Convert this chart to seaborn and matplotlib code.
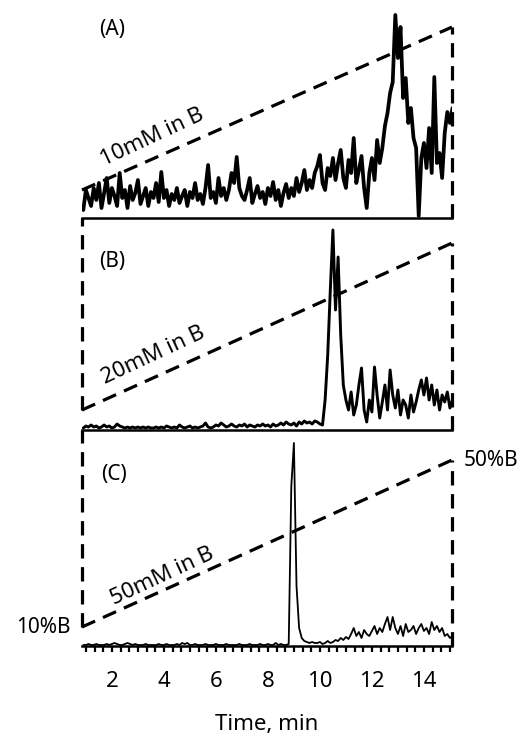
import numpy as np
import pandas as pd
import matplotlib
matplotlib.use("Agg")
import matplotlib.pyplot as plt
from matplotlib.ticker import MultipleLocator, FixedLocator
import seaborn as sns

# ---------------- data ----------------
t_start = 0.9
t_step = 0.1
# detector response (arbitrary units) sampled every 0.1 min from 0.9 to 15.1 min
signal_A = [8, 28, 20, 12, 30, 18, 35, 10, 25, 40,
            15, 30, 22, 12, 45, 20, 28, 10, 32, 18,
            25, 38, 14, 22, 30, 12, 26, 20, 35, 16,
            46, 20, 28, 12, 24, 18, 30, 15, 22, 28,
            12, 26, 20, 35, 18, 24, 14, 30, 53, 20,
            26, 15, 40, 22, 30, 18, 28, 45, 35, 61,
            30, 22, 18, 28, 40, 15, 24, 32, 20, 26,
            14, 30, 22, 36, 18, 28, 12, 25, 34, 20,
            30, 22, 40, 26, 35, 48, 28, 38, 30, 45,
            52, 63, 35, 28, 50, 42, 60, 38, 55, 68,
            40, 30, 58, 45, 80, 35, 48, 62, 30, 10,
            45, 60, 38, 78, 55, 70, 92, 105, 125, 136,
            203, 160, 191, 120, 140, 95, 110, 80, 70, 2,
            60, 75, 50, 90, 45, 141, 55, 65, 40, 85,
            106, 95, 110]
signal_B = [2, 4, 3, 5, 3, 4, 2, 3, 5, 3,
            4, 2, 3, 6, 4, 3, 2, 3, 2, 3,
            2, 3, 2, 3, 2, 3, 2, 2, 3, 2,
            3, 2, 4, 3, 2, 3, 2, 5, 3, 2,
            3, 4, 2, 3, 2, 3, 4, 7, 3, 2,
            3, 5, 4, 7, 5, 3, 4, 6, 4, 3,
            5, 4, 6, 3, 5, 4, 3, 5, 4, 6,
            4, 5, 3, 6, 4, 5, 7, 5, 8, 6,
            5, 7, 4, 8, 6, 9, 7, 8, 6, 9,
            8, 6, 5, 30, 75, 140, 200, 120, 173, 95,
            45, 30, 20, 38, 15, 25, 45, 62, 20, 8,
            30, 18, 63, 35, 12, 28, 45, 20, 60, 35,
            22, 40, 15, 30, 25, 12, 35, 18, 28, 40,
            50, 35, 52, 30, 45, 25, 40, 20, 35, 28,
            38, 22, 30]
signal_C = [1, 1, 2, 1, 1, 2, 1, 1, 1, 2,
            1, 2, 3, 2, 1, 1, 2, 3, 2, 1,
            2, 1, 1, 1, 2, 1, 1, 1, 1, 2,
            1, 1, 2, 1, 1, 1, 2, 1, 3, 2,
            3, 1, 1, 2, 1, 1, 1, 2, 1, 1,
            1, 2, 1, 1, 1, 2, 1, 1, 1, 1,
            2, 1, 1, 1, 2, 1, 1, 1, 2, 1,
            1, 2, 1, 1, 3, 1, 2, 1, 1, 2,
            160, 203, 60, 18, 8, 5, 4, 3, 4, 3,
            3, 4, 2, 3, 5, 3, 4, 6, 5, 8,
            6, 9, 7, 12, 18, 10, 14, 8, 16, 12,
            10, 15, 20, 12, 18, 14, 22, 29, 16, 29,
            18, 12, 20, 10, 22, 14, 16, 20, 12, 18,
            22, 15, 18, 12, 24, 16, 20, 14, 18, 10,
            12, 8, 10]

grad_time = [0.85, 15.08]      # min
grad_B = [10, 50]              # %B
panel_labels = ["(A)", "(B)", "(C)"]
salt_labels = ["10mM in B", "20mM in B", "50mM in B"]
x_ticks = [2, 4, 6, 8, 10, 12, 14]

# ---------------- figure ----------------
sns.set_style("white")
plt.rcParams["font.family"] = ["Noto Sans", "DejaVu Sans"]
plt.rcParams["text.color"] = "black"
plt.rcParams["axes.labelcolor"] = "black"
plt.rcParams["xtick.color"] = "black"

W, H = 522, 734
fig = plt.figure(figsize=(W / 100, H / 100), dpi=100)

def px_rect(top, bottom):
    return [82 / W, 1 - bottom / H, 370 / W, (bottom - top) / H]

rects = [px_rect(12, 218), px_rect(218, 430), px_rect(430, 646)]
ylims = [(0, 206), (0, 212), (0, 216)]
grad_lims = [(3.13, 53.7), (5.21, 56.0), (5.45, 57.2)]
trace_lw = [2.7, 2.1, 1.3]
signals = [signal_A, signal_B, signal_C]
label_pos = [(112, 30), (112, 261), (114, 475)]
salt_pos = [(152, 137), (153, 355), (162, 576)]

dash = (0, (4.5, 2.7))
dash_lw = 2.3

times = t_start + t_step * np.arange(len(signal_A))

for i in range(3):
    ax = fig.add_axes(rects[i])
    df = pd.DataFrame({"time": times, "signal": signals[i]})
    sns.lineplot(data=df, x="time", y="signal", ax=ax, color="black",
                 lw=trace_lw[i], estimator=None, sort=False)
    ax.set_xlim(0.85, 15.08)
    ax.set_ylim(*ylims[i])
    ax.set_xlabel("")
    ax.set_ylabel("")
    ax.set_yticks([])
    for s in ["top", "left", "right"]:
        ax.spines[s].set_visible(False)
    ax.spines["bottom"].set_linewidth(1.8)
    ax.spines["bottom"].set_color("black")
    ax.patch.set_alpha(0)

    # gradient on a twin scale (%B)
    g = ax.twinx()
    g.set_ylim(*grad_lims[i])
    g.set_xlim(0.85, 15.08)
    g.axis("off")
    g.plot(grad_time, grad_B, color="black", lw=dash_lw, linestyle=dash,
           clip_on=False)
    lo, hi = g.get_ylim()
    g.vlines(grad_time[1], lo, grad_B[1], color="black", lw=dash_lw,
             linestyle=dash, clip_on=False)
    if i > 0:
        g.vlines(grad_time[0], grad_B[0], hi, color="black", lw=dash_lw,
                 linestyle=dash, clip_on=False)

    fig.text(label_pos[i][0] / W, 1 - label_pos[i][1] / H, panel_labels[i],
             fontsize=15, ha="center", va="center")
    fig.text(salt_pos[i][0] / W, 1 - salt_pos[i][1] / H, salt_labels[i],
             fontsize=16, ha="center", va="center", rotation=25,
             rotation_mode="anchor")

    if i < 2:
        ax.tick_params(axis="x", bottom=False, labelbottom=False)
    else:
        ax.xaxis.set_major_locator(FixedLocator(x_ticks))
        ax.xaxis.set_minor_locator(MultipleLocator(1 / 3))
        ax.tick_params(axis="x", which="both", bottom=True, direction="out",
                       length=4, width=1.6, color="black", labelsize=16, pad=14)
        ax.set_xlabel("Time, min", fontsize=16, labelpad=16)
        g.text(grad_time[0] - 0.45, grad_B[0], "10%B", fontsize=15,
               ha="right", va="center")
        g.text(grad_time[1] + 0.45, grad_B[1], "50%B", fontsize=15,
               ha="left", va="center")

fig.savefig("out.png", dpi=100)
